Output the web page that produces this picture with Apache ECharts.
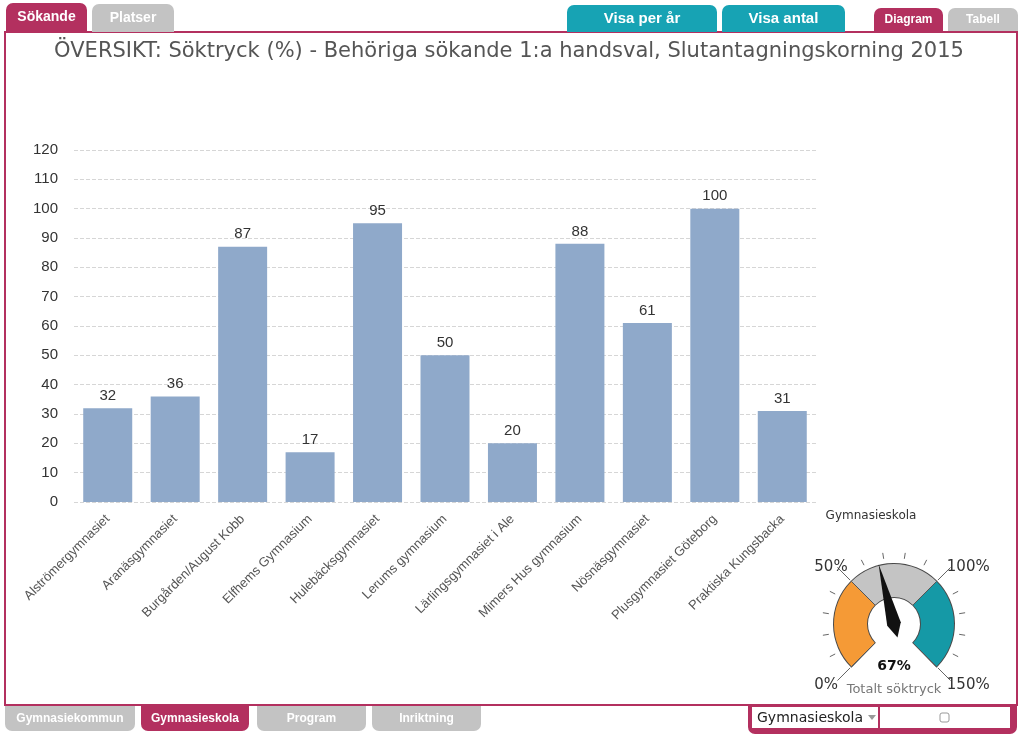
<!DOCTYPE html>
<html><head><meta charset="utf-8">
<script src="https://cdn.jsdelivr.net/npm/echarts@6/dist/echarts.min.js"></script>
<style>html,body{margin:0;padding:0;background:#fff}#c{width:1024px;height:737px}</style>
</head><body><div id="c"></div>
<script>
var categories = ['Alströmergymnasiet','Aranäsgymnasiet','Burgården/August Kobb','Elfhems Gymnasium','Hulebäcksgymnasiet','Lerums gymnasium','Lärlingsgymnasiet i Ale','Mimers Hus gymnasium','Nösnäsgymnasiet','Plusgymnasiet Göteborg','Praktiska Kungsbacka'];
var values = [32,36,87,17,95,50,20,88,61,100,31];
var gaugeValue = [67];
var gaugeTicks = ['0%','50%','100%','150%'];
var titleText = 'ÖVERSIKT: Söktryck (%) - Behöriga sökande 1:a handsval, Slutantagningskorning 2015';
var topTabs = ['Sökande','Platser'];
var viewTabs = ['Visa per år','Visa antal'];
var modeTabs = ['Diagram','Tabell'];
var bottomTabs = ['Gymnasiekommun','Gymnasieskola','Program','Inriktning'];

var CR = '#B3305F', GR = '#C3C3C3', TE = '#17A3B4';
function tab(x,y,w,h,fill,text,size,top){
  return {type:'group',children:[
    {type:'rect',shape:{x:x,y:y,width:w,height:h,r: top?[7,7,0,0]:[0,0,7,7]},style:{fill:fill}},
    {type:'text',x:x+w/2,y:y+h/2,style:{text:text,fill:'#fff',font:'bold '+size+'px "Liberation Sans", Arial',align:'center',verticalAlign:'middle'}}
  ]};
}
var graphics = [
  {type:'rect',shape:{x:5,y:32,width:1012,height:673},style:{fill:'#fff',stroke:CR,lineWidth:2},z:-10},
  tab(6,3,81,29,CR,topTabs[0],14,true),
  tab(92,4,82,28,GR,topTabs[1],14,true),
  tab(567,5,150,27,TE,viewTabs[0],15,true),
  tab(722,5,123,27,TE,viewTabs[1],15,true),
  tab(874,8,69,23,CR,modeTabs[0],12,true),
  tab(948,8,70,23,GR,modeTabs[1],12,true),
  tab(5,706,130,25,GR,bottomTabs[0],12,false),
  tab(141,706,108,25,CR,bottomTabs[1],12,false),
  tab(257,706,109,25,GR,bottomTabs[2],12,false),
  tab(372,706,109,25,GR,bottomTabs[3],12,false),
  {type:'rect',shape:{x:748,y:704,width:269,height:30,r:[0,0,7,7]},style:{fill:CR}},
  {type:'rect',shape:{x:752,y:707,width:126,height:21},style:{fill:'#fff'}},
  {type:'rect',shape:{x:880,y:707,width:130,height:21},style:{fill:'#fff'}},
  {type:'text',x:757,y:718,style:{text:'Gymnasieskola',fill:'#222',font:'14px "DejaVu Sans"',verticalAlign:'middle'}},
  {type:'polygon',shape:{points:[[868,715],[876,715],[872,720]]},style:{fill:'#999'}},
  {type:'rect',shape:{x:940,y:713,width:9,height:9,r:2},style:{fill:'#fff',stroke:'#999',lineWidth:1}},
  {type:'text',x:871,y:516,style:{text:'Gymnasieskola',fill:'#333',font:'12px "DejaVu Sans"',align:'center',verticalAlign:'middle'}},
  {type:'text',x:509,y:52,style:{text:titleText,fill:'#555',font:'21px "DejaVu Sans"',align:'center',verticalAlign:'middle'}}
];

var chart = echarts.init(document.getElementById('c'));
var C = [894,624];
function labelGauge(center, side){
  return {type:'gauge',center:center,radius:60,startAngle:225,endAngle:-45,min:0,max:150,splitNumber:3,
    axisLine:{show:false,lineStyle:{width:0}},axisTick:{show:false},splitLine:{show:false,length:0,distance:0},
    axisLabel:{show:true,distance:-23,color:'#333',fontSize:15,fontFamily:'"DejaVu Sans"',
      formatter:function(v){var i=Math.round(v/50);return (side==='L'?(i<2):(i>=2))?gaugeTicks[i]:'';}},
    pointer:{show:false},anchor:{show:false},title:{show:false},detail:{show:false},data:[]};
}
chart.setOption({
  animation:false,
  graphic: graphics,
  grid:{left:74,right:208,top:150,bottom:235},
  xAxis:{type:'category',data:categories,axisLine:{show:false},axisTick:{show:false},
    axisLabel:{rotate:45,interval:0,margin:15,color:'#555',fontSize:13,fontFamily:'"Liberation Sans", Arial'}},
  yAxis:{type:'value',min:0,max:120,interval:10,axisLine:{show:false},axisTick:{show:false},
    axisLabel:{color:'#333',fontSize:15,margin:16,fontFamily:'"Liberation Sans", Arial'},
    splitLine:{lineStyle:{color:'#d6d6d6',type:[4,2]}}},
  series:[
    {type:'bar',data:values,barWidth:49,itemStyle:{color:'#8FA9CA'},
     label:{show:true,position:'top',color:'#333',fontSize:15,distance:5,fontFamily:'"Liberation Sans", Arial'}},
    {type:'gauge',center:C,radius:61,startAngle:225.8,endAngle:-45.8,min:0,max:150,
     axisLine:{lineStyle:{width:35,color:[[1,'#4a4a4a']]}},axisTick:{show:false},splitLine:{show:false},axisLabel:{show:false},
     pointer:{show:false},anchor:{show:false},title:{show:false},detail:{show:false},data:[]},
    {type:'gauge',center:C,radius:60,startAngle:225,endAngle:-45,min:0,max:150,splitNumber:3,
     axisLine:{lineStyle:{width:33,color:[[1/3,'#F59A36'],[2/3,'#C4C4C4'],[1,'#1599A6']]}},
     axisTick:{show:false},splitLine:{show:true,distance:-33,length:33,lineStyle:{color:'#555',width:1}},axisLabel:{show:false},
     pointer:{show:true,length:'103%',width:7,itemStyle:{color:'#111'}},anchor:{show:false},
     title:{show:true,offsetCenter:[0,'110%'],color:'#777',fontSize:13,fontFamily:'"DejaVu Sans"'},
     detail:{show:true,offsetCenter:[0,'70%'],formatter:'{value}%',color:'#111',fontSize:14,fontWeight:'bold',fontFamily:'"DejaVu Sans"'},
     data:[{value:gaugeValue[0],name:'Totalt söktryck'}]},
    {type:'gauge',center:C,radius:60,startAngle:225,endAngle:-45,min:0,max:150,splitNumber:3,
     axisLine:{show:false,lineStyle:{width:0}},
     axisTick:{show:true,splitNumber:5,distance:-12,length:6,lineStyle:{color:'#666',width:1}},
     splitLine:{show:true,distance:-20,length:18,lineStyle:{color:'#666',width:1}},
     axisLabel:{show:false},
     pointer:{show:false},anchor:{show:false},title:{show:false},detail:{show:false},data:[]},
    labelGauge([873,626],'L'),
    labelGauge([931,626],'R')
  ]
});
</script></body></html>
